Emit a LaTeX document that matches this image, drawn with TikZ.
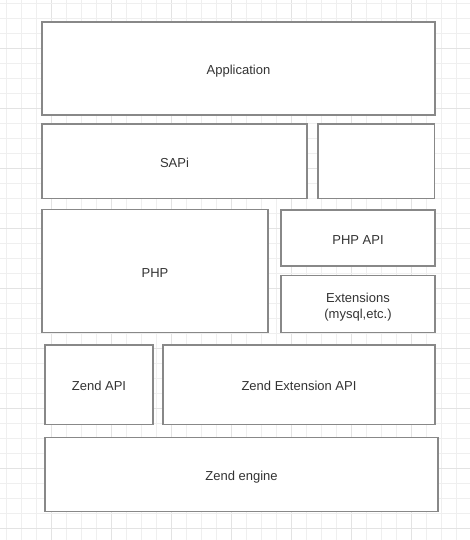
\documentclass[tikz,border=0pt]{standalone}
\usepackage{fontspec}
\setmainfont{Liberation Sans}
\begin{document}
\begin{tikzpicture}[x=1pt,y=-1pt,
  box/.style={draw=boxgray, line width=1.3pt, fill=white, text=txt, inner sep=0pt,
    font=\fontsize{13}{17}\selectfont, align=center},
  lbl/.style={text=txt, inner sep=0pt, font=\fontsize{13}{17}\selectfont, align=center}]
\definecolor{boxgray}{HTML}{888888}
\definecolor{txt}{HTML}{333333}
\definecolor{gridl}{HTML}{EFEFEF}
\definecolor{gridd}{HTML}{E3E3E3}
\useasboundingbox (0,0) rectangle (470,540);
\fill[white] (0,0) rectangle (470,540);
\foreach \i in {0,...,31} {
  \pgfmathsetmacro{\gx}{6.5+15*\i}
  \pgfmathtruncatemacro{\m}{mod(\i,4)}
  \ifnum\m=3 \draw[gridd, line width=0.8pt] (\gx,0) -- (\gx,540);
  \else \draw[gridl, line width=0.8pt] (\gx,0) -- (\gx,540); \fi
}
\foreach \j in {0,...,35} {
  \pgfmathsetmacro{\gy}{3+15*\j}
  \pgfmathtruncatemacro{\m}{mod(\j,4)}
  \ifnum\m=3 \draw[gridd, line width=0.8pt] (0,\gy) -- (470,\gy);
  \else \draw[gridl, line width=0.8pt] (0,\gy) -- (470,\gy); \fi
}
\node[box, minimum width=393pt, minimum height=93pt] (app) at (238.5,68.5) {};
\node[box, minimum width=265pt, minimum height=74.5pt] (sapi) at (174.5,161.3) {};
\node[box, minimum width=116.5pt, minimum height=74.5pt] (empty) at (376.3,161.3) {};
\node[box, minimum width=226pt, minimum height=122.5pt] (php) at (155,271) {};
\node[box, minimum width=154pt, minimum height=56pt] (phpapi) at (358,238) {};
\node[box, minimum width=154pt, minimum height=56.5pt] (ext) at (358,304) {};
\node[box, minimum width=108pt, minimum height=79.5pt] (zapi) at (99,384.8) {};
\node[box, minimum width=272pt, minimum height=79.5pt] (zext) at (299,384.8) {};
\node[box, minimum width=393pt, minimum height=74pt] (zeng) at (241.5,474.5) {};
\node[lbl, anchor=base] (tapp) at ([yshift=-6pt]app.center) {Application};
\node[lbl, anchor=base] (tsapi) at ([yshift=-6pt]sapi.center) {SAPi};
\node[lbl, anchor=base] (tphp) at ([yshift=-6pt]php.center) {PHP};
\node[lbl, anchor=base] (tphpapi) at ([yshift=-6pt]phpapi.center) {PHP API};
\node[lbl, anchor=base] (text1) at ([yshift=1.8pt]ext.center) {Extensions};
\node[lbl, anchor=base] (text2) at ([yshift=-14.2pt]ext.center) {(mysql,etc.)};
\node[lbl, anchor=base] (tzapi) at ([yshift=-6pt]zapi.center) {Zend API};
\node[lbl, anchor=base] (tzext) at ([yshift=-6pt]zext.center) {Zend Extension API};
\node[lbl, anchor=base] (tzeng) at ([yshift=-6pt]zeng.center) {Zend engine};
\end{tikzpicture}
\end{document}
